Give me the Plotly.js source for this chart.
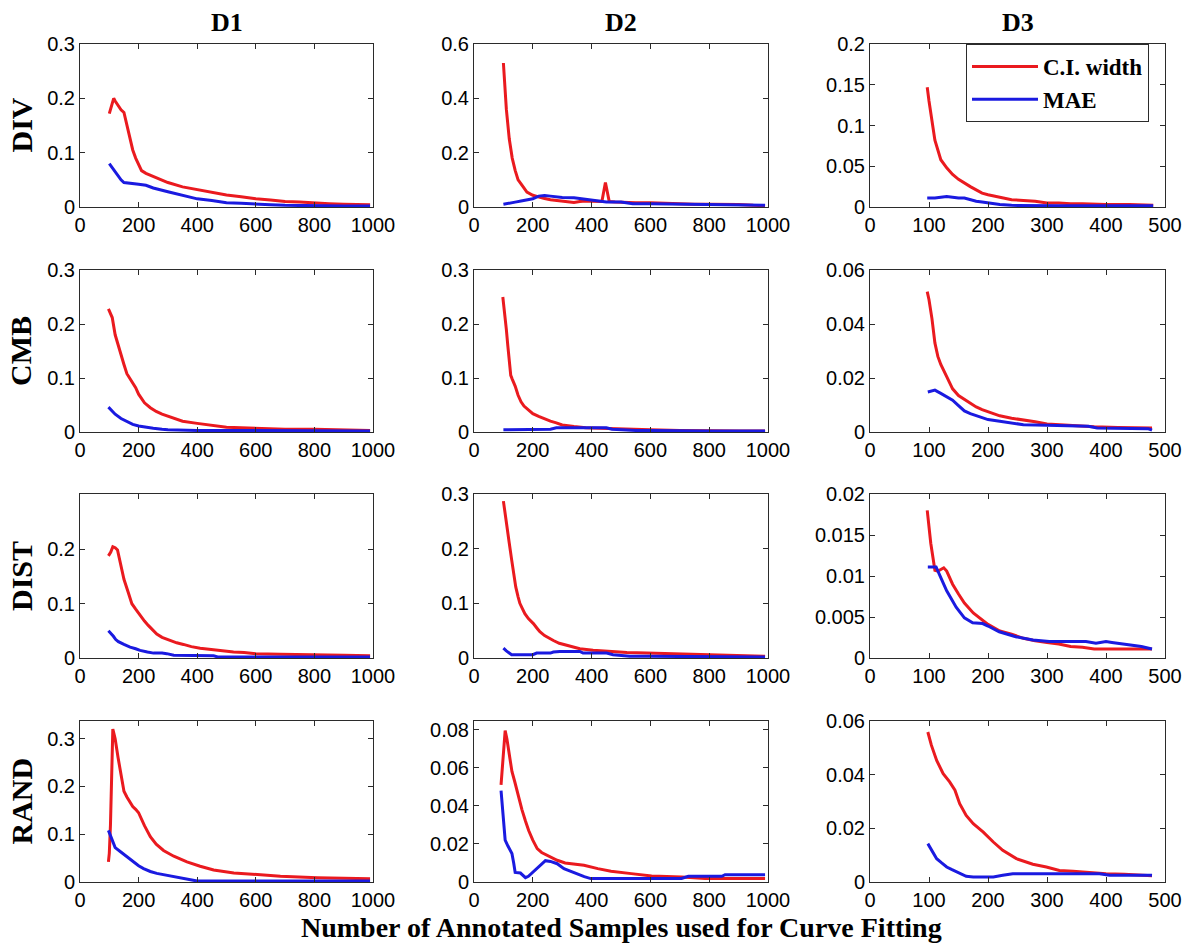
<!DOCTYPE html>
<html>
<head>
<meta charset="utf-8">
<script src="https://cdn.plot.ly/plotly-3.0.1.min.js"></script>
<style>html,body{margin:0;padding:0;background:#fff;}#chart{width:1200px;height:949px;}</style>
</head>
<body>
<div id="chart"></div>
<script>
// ---------- categories / labels ----------
const datasets = ["D1", "D2", "D3"];
const strategies = ["DIV", "CMB", "DIST", "RAND"];
const seriesNames = ["C.I. width", "MAE"];
const xTitle = "Number of Annotated Samples used for Curve Fitting";
const xTicks1000 = [0, 200, 400, 600, 800, 1000];
const xTicks500 = [0, 100, 200, 300, 400, 500];

// ---------- DIV ----------
const DIV_D1_x_ci = [100,110,115,120,130,140,150,160,170,180,190,200,210,225,250,275,300,350,400,450,500,550,600,650,700,750,800,850,900,950,990];
const DIV_D1_ci   = [0.172,0.19,0.2,0.195,0.186,0.179,0.174,0.15,0.125,0.105,0.09,0.077,0.067,0.062,0.056,0.05,0.045,0.037,0.032,0.027,0.022,0.019,0.015,0.013,0.01,0.009,0.007,0.006,0.005,0.004,0.004];
const DIV_D1_x_mae = [100,120,140,150,175,200,225,250,300,350,400,450,500,550,600,650,700,800,900,990];
const DIV_D1_mae   = [0.08,0.065,0.05,0.045,0.044,0.042,0.04,0.035,0.028,0.021,0.015,0.012,0.008,0.007,0.005,0.004,0.003,0.002,0.002,0.002];

const DIV_D2_x_ci = [100,110,120,130,140,150,160,170,180,200,220,240,260,280,300,320,340,360,380,400,420,435,447,460,480,500,550,600,650,700,750,800,850,900,950,990];
const DIV_D2_ci   = [0.53,0.36,0.25,0.18,0.135,0.1,0.085,0.068,0.055,0.043,0.036,0.031,0.027,0.024,0.022,0.02,0.017,0.02,0.022,0.021,0.02,0.02,0.09,0.02,0.018,0.017,0.016,0.016,0.014,0.01,0.01,0.01,0.01,0.009,0.006,0.005];
const DIV_D2_x_mae = [100,120,140,160,180,200,220,240,260,280,300,340,380,420,450,500,540,600,700,800,900,990];
const DIV_D2_mae   = [0.01,0.013,0.018,0.022,0.025,0.03,0.04,0.042,0.04,0.037,0.035,0.034,0.028,0.022,0.018,0.018,0.012,0.012,0.01,0.008,0.007,0.006];

const DIV_D3_x_ci = [97,100,110,120,130,140,150,160,170,180,190,200,220,240,260,280,300,320,340,360,400,440,480];
const DIV_D3_ci   = [0.147,0.13,0.082,0.058,0.048,0.04,0.034,0.029,0.025,0.021,0.017,0.015,0.012,0.009,0.008,0.007,0.005,0.005,0.004,0.004,0.003,0.003,0.002];
const DIV_D3_x_mae = [97,110,120,130,140,150,160,170,180,190,200,220,240,280,320,400,480];
const DIV_D3_mae   = [0.011,0.011,0.012,0.013,0.012,0.011,0.011,0.009,0.007,0.006,0.005,0.003,0.002,0.0015,0.0015,0.0015,0.0015];

// ---------- CMB ----------
const CMB_D1_x_ci = [97,110,120,130,140,150,160,170,180,190,200,220,240,260,280,300,350,400,450,500,550,600,700,800,870,990];
const CMB_D1_ci   = [0.228,0.212,0.18,0.16,0.142,0.125,0.108,0.1,0.092,0.082,0.07,0.054,0.045,0.038,0.033,0.029,0.02,0.016,0.012,0.009,0.008,0.007,0.005,0.005,0.004,0.003];
const CMB_D1_x_mae = [97,110,120,140,160,180,200,220,250,280,300,400,500,600,700,800,900,990];
const CMB_D1_mae   = [0.046,0.039,0.033,0.025,0.019,0.014,0.011,0.009,0.007,0.005,0.004,0.003,0.003,0.003,0.002,0.002,0.002,0.002];

const CMB_D2_x_ci = [98,105,110,115,120,125,130,140,150,160,170,180,200,220,240,260,280,300,340,380,430,480,540,600,700,800,900,990];
const CMB_D2_ci   = [0.25,0.22,0.19,0.16,0.13,0.105,0.098,0.085,0.068,0.056,0.048,0.043,0.034,0.029,0.024,0.02,0.017,0.013,0.01,0.008,0.007,0.006,0.004,0.004,0.003,0.002,0.002,0.002];
const CMB_D2_x_mae = [100,150,200,260,280,300,350,400,450,470,500,550,600,700,800,900,990];
const CMB_D2_mae   = [0.004,0.004,0.004,0.005,0.008,0.008,0.008,0.008,0.008,0.005,0.004,0.003,0.003,0.002,0.002,0.002,0.002];

const CMB_D3_x_ci = [97,100,105,110,115,120,130,140,150,160,170,180,190,200,220,240,260,280,300,320,340,380,420,460,478];
const CMB_D3_ci   = [0.052,0.049,0.042,0.033,0.028,0.025,0.0205,0.016,0.0135,0.012,0.0105,0.0093,0.0083,0.0075,0.006,0.0051,0.0045,0.0038,0.003,0.0027,0.0023,0.0019,0.0017,0.0016,0.0015];
const CMB_D3_x_mae = [98,105,110,120,130,140,150,160,170,180,200,220,240,260,300,340,370,385,420,460,472,478];
const CMB_D3_mae   = [0.0148,0.0152,0.0155,0.0143,0.013,0.0118,0.0098,0.0078,0.0068,0.006,0.0046,0.004,0.0034,0.0027,0.0025,0.0023,0.0021,0.0015,0.0014,0.0013,0.0012,0.0007];

// ---------- DIST ----------
const DIST_D1_x_ci = [97,105,112,120,128,135,142,150,165,177,190,205,220,233,250,262,280,308,330,353,380,410,440,467,500,524,560,600,683,750,800,900,990];
const DIST_D1_ci   = [0.188,0.195,0.205,0.203,0.199,0.18,0.16,0.145,0.12,0.1,0.09,0.078,0.068,0.06,0.05,0.044,0.038,0.032,0.028,0.025,0.021,0.018,0.016,0.014,0.012,0.011,0.01,0.008,0.007,0.006,0.006,0.005,0.004];
const DIST_D1_x_mae = [97,105,114,122,131,150,171,190,205,230,251,280,296,320,400,456,470,600,800,990];
const DIST_D1_mae   = [0.05,0.046,0.04,0.034,0.03,0.025,0.02,0.017,0.014,0.011,0.009,0.009,0.008,0.005,0.005,0.004,0.002,0.002,0.002,0.002];

const DIST_D2_x_ci = [100,105,111,120,128,135,142,150,156,165,173,185,202,215,224,240,255,270,290,315,340,360,405,473,520,587,650,790,900,990];
const DIST_D2_ci   = [0.287,0.265,0.24,0.21,0.18,0.155,0.13,0.112,0.1,0.09,0.081,0.072,0.063,0.054,0.048,0.041,0.036,0.032,0.027,0.023,0.02,0.017,0.014,0.011,0.01,0.009,0.008,0.006,0.004,0.003];
const DIST_D2_x_mae = [100,110,128,160,200,213,260,270,292,330,360,371,420,451,473,500,530,600,700,800,900,990];
const DIST_D2_mae   = [0.018,0.013,0.006,0.006,0.006,0.009,0.009,0.011,0.012,0.012,0.012,0.009,0.009,0.009,0.006,0.005,0.003,0.003,0.003,0.003,0.002,0.002];

const DIST_D3_x_ci = [97,103,110,115,120,125,130,140,150,160,175,190,200,220,240,260,280,300,320,340,360,380,420,460,478];
const DIST_D3_ci   = [0.018,0.014,0.0107,0.0106,0.0108,0.011,0.0106,0.009,0.0078,0.0067,0.0055,0.0047,0.0041,0.0033,0.0029,0.0024,0.0021,0.0019,0.0017,0.0014,0.0013,0.0011,0.0011,0.0011,0.0011];
const DIST_D3_x_mae = [98,105,112,120,130,146,160,174,185,191,200,219,247,276,304,340,366,383,400,410,434,460,478];
const DIST_D3_mae   = [0.0111,0.0111,0.0111,0.0098,0.0082,0.0062,0.0049,0.0043,0.0042,0.0042,0.0039,0.0032,0.0026,0.0022,0.002,0.002,0.002,0.0018,0.002,0.0019,0.0017,0.0014,0.0011];

// ---------- RAND ----------
const RAND_D1_x_ci = [97,100,104,108,112,116,120,130,140,150,160,170,180,190,200,220,240,260,285,320,365,410,456,525,593,684,810,990];
const RAND_D1_ci   = [0.042,0.06,0.12,0.25,0.32,0.31,0.3,0.26,0.22,0.19,0.178,0.167,0.158,0.152,0.145,0.118,0.095,0.079,0.066,0.054,0.042,0.033,0.025,0.019,0.0155,0.012,0.009,0.007];
const RAND_D1_x_mae = [97,105,113,120,135,150,165,182,200,217,240,262,290,319,345,365,390,400,500,600,700,800,900,990];
const RAND_D1_mae   = [0.108,0.095,0.08,0.072,0.065,0.058,0.05,0.042,0.034,0.028,0.022,0.018,0.015,0.011,0.008,0.006,0.004,0.002,0.002,0.002,0.002,0.002,0.002,0.002];

const RAND_D2_x_ci = [92,100,106,112,120,129,138,146,155,163,175,186,200,215,230,249,265,283,310,329,374,421,466,535,604,706,786,850,990];
const RAND_D2_ci   = [0.051,0.068,0.0795,0.075,0.066,0.058,0.053,0.048,0.043,0.038,0.032,0.027,0.022,0.0175,0.0155,0.014,0.0125,0.0114,0.01,0.0096,0.0088,0.007,0.0056,0.0044,0.0032,0.0026,0.0018,0.0018,0.0018];
const RAND_D2_x_mae = [92,96,100,106,115,129,135,140,158,170,175,185,200,215,230,243,260,283,306,330,352,375,397,450,557,706,729,843,854,990];
const RAND_D2_mae   = [0.048,0.04,0.03,0.022,0.019,0.015,0.01,0.005,0.0047,0.003,0.0023,0.003,0.005,0.007,0.0095,0.0112,0.0108,0.0096,0.007,0.0055,0.004,0.0028,0.0018,0.0018,0.0018,0.0019,0.003,0.003,0.0038,0.0038];

const RAND_D3_x_ci = [98,104,113,124,135,144,152,163,175,192,209,225,248,276,299,321,344,378,400,431,460,478];
const RAND_D3_ci   = [0.0559,0.051,0.0453,0.0404,0.0373,0.0342,0.0292,0.0248,0.0217,0.0186,0.0149,0.0118,0.0087,0.0066,0.0056,0.0043,0.004,0.0034,0.0031,0.0029,0.0025,0.0023];
const RAND_D3_x_mae = [98,105,113,121,130,139,147,155,163,175,209,225,242,300,389,406,440,478];
const RAND_D3_mae   = [0.0143,0.0115,0.0087,0.0072,0.0056,0.0046,0.0037,0.0028,0.0021,0.0019,0.0019,0.0025,0.0031,0.0031,0.0031,0.0025,0.0025,0.0025];

// ---------- y ticks per panel ----------
const yTicks_DIV_D1 = [0, 0.1, 0.2, 0.3];
const yTicks_DIV_D2 = [0, 0.2, 0.4, 0.6];
const yTicks_DIV_D3 = [0, 0.05, 0.1, 0.15, 0.2];
const yTicks_CMB_D1 = [0, 0.1, 0.2, 0.3];
const yTicks_CMB_D2 = [0, 0.1, 0.2, 0.3];
const yTicks_CMB_D3 = [0, 0.02, 0.04, 0.06];
const yTicks_DIST_D1 = [0, 0.1, 0.2];
const yTicks_DIST_D2 = [0, 0.1, 0.2, 0.3];
const yTicks_DIST_D3 = [0, 0.005, 0.01, 0.015, 0.02];
const yTicks_RAND_D1 = [0, 0.1, 0.2, 0.3];
const yTicks_RAND_D2 = [0, 0.02, 0.04, 0.06, 0.08];
const yTicks_RAND_D3 = [0, 0.02, 0.04, 0.06];

const yMax = {
  DIV: [0.3, 0.6, 0.2],
  CMB: [0.3, 0.3, 0.06],
  DIST: [0.302, 0.3, 0.02],
  RAND: [0.337, 0.0845, 0.06]
};

const panels = {
  DIV:  [[DIV_D1_x_ci,DIV_D1_ci,DIV_D1_x_mae,DIV_D1_mae,yTicks_DIV_D1],[DIV_D2_x_ci,DIV_D2_ci,DIV_D2_x_mae,DIV_D2_mae,yTicks_DIV_D2],[DIV_D3_x_ci,DIV_D3_ci,DIV_D3_x_mae,DIV_D3_mae,yTicks_DIV_D3]],
  CMB:  [[CMB_D1_x_ci,CMB_D1_ci,CMB_D1_x_mae,CMB_D1_mae,yTicks_CMB_D1],[CMB_D2_x_ci,CMB_D2_ci,CMB_D2_x_mae,CMB_D2_mae,yTicks_CMB_D2],[CMB_D3_x_ci,CMB_D3_ci,CMB_D3_x_mae,CMB_D3_mae,yTicks_CMB_D3]],
  DIST: [[DIST_D1_x_ci,DIST_D1_ci,DIST_D1_x_mae,DIST_D1_mae,yTicks_DIST_D1],[DIST_D2_x_ci,DIST_D2_ci,DIST_D2_x_mae,DIST_D2_mae,yTicks_DIST_D2],[DIST_D3_x_ci,DIST_D3_ci,DIST_D3_x_mae,DIST_D3_mae,yTicks_DIST_D3]],
  RAND: [[RAND_D1_x_ci,RAND_D1_ci,RAND_D1_x_mae,RAND_D1_mae,yTicks_RAND_D1],[RAND_D2_x_ci,RAND_D2_ci,RAND_D2_x_mae,RAND_D2_mae,yTicks_RAND_D2],[RAND_D3_x_ci,RAND_D3_ci,RAND_D3_x_mae,RAND_D3_mae,yTicks_RAND_D3]]
};

// ---------- layout geometry (pixels) ----------
const W = 1200, H = 949;
const colPx = [[80, 373], [474, 768], [870, 1165]];
const rowPx = [[44, 207], [270, 432], [494, 658], [721, 882]];
const RED = "#ea1a1f", BLUE = "#1a1ae0";
const AXC = "#2b2b2b";
const tickFont = {family: "Liberation Sans, Arial, sans-serif", size: 20, color: "#000"};
const serif = "Liberation Serif, Times New Roman, serif";

function fmt(v) { return String(v); }

const traces = [];
const layout = {
  width: W, height: H,
  margin: {l: 0, r: 0, t: 0, b: 0},
  paper_bgcolor: "#fff", plot_bgcolor: "#fff",
  showlegend: true,
  legend: {
    x: 966 / W, y: 1 - 44 / H, xanchor: "left", yanchor: "top",
    bgcolor: "#fff", bordercolor: AXC, borderwidth: 1,
    font: {family: serif, size: 23, color: "#000", weight: "bold"},
    itemwidth: 66, tracegroupgap: 0
  },
  annotations: [],
  shapes: []
};

strategies.forEach((s, r) => {
  datasets.forEach((d, c) => {
    const n = r * 3 + c + 1;
    const xa = "xaxis" + (n === 1 ? "" : n), ya = "yaxis" + (n === 1 ? "" : n);
    const xr = "x" + (n === 1 ? "" : n), yr = "y" + (n === 1 ? "" : n);
    const p = panels[s][c];
    const isLegendPanel = (r === 0 && c === 2);
    traces.push({x: p[0], y: p[1], xaxis: xr, yaxis: yr, type: "scatter", mode: "lines",
      name: seriesNames[0], line: {color: RED, width: 3}, showlegend: isLegendPanel, legendgroup: "ci"});
    traces.push({x: p[2], y: p[3], xaxis: xr, yaxis: yr, type: "scatter", mode: "lines",
      name: seriesNames[1], line: {color: BLUE, width: 3}, showlegend: isLegendPanel, legendgroup: "mae"});
    const xt = c === 2 ? xTicks500 : xTicks1000;
    layout[xa] = {
      domain: [colPx[c][0] / W, colPx[c][1] / W], anchor: yr,
      range: [0, c === 2 ? 500 : 1000], tickmode: "array", tickvals: xt, ticktext: xt.map(fmt),
      showline: true, linecolor: AXC, linewidth: 1, mirror: "ticks", ticks: "inside",
      ticklen: 5, tickcolor: AXC, showgrid: false, zeroline: false, tickfont: tickFont
    };
    layout[ya] = {
      domain: [1 - rowPx[r][1] / H, 1 - rowPx[r][0] / H], anchor: xr,
      range: [0, yMax[s][c]], tickmode: "array", tickvals: p[4], ticktext: p[4].map(fmt),
      showline: true, linecolor: AXC, linewidth: 1, mirror: "ticks", ticks: "inside",
      ticklen: 5, tickcolor: AXC, showgrid: false, zeroline: false, tickfont: tickFont
    };
  });
});

// column titles
datasets.forEach((d, c) => {
  layout.annotations.push({text: "<b>" + d + "</b>", xref: "paper", yref: "paper",
    x: (colPx[c][0] + colPx[c][1]) / 2 / W, y: 1 - 22 / H, xanchor: "center", yanchor: "middle",
    showarrow: false, font: {family: serif, size: 26, color: "#000"}});
});
// row labels
strategies.forEach((s, r) => {
  layout.annotations.push({text: "<b>" + s + "</b>", xref: "paper", yref: "paper",
    x: 21 / W, y: 1 - (rowPx[r][0] + rowPx[r][1]) / 2 / H, xanchor: "center", yanchor: "middle",
    textangle: -90, showarrow: false, font: {family: serif, size: 30, color: "#000"}});
});
// x-axis title
layout.annotations.push({text: "<b>" + xTitle + "</b>", xref: "paper", yref: "paper",
  x: 621 / W, y: 1 - 927 / H, xanchor: "center", yanchor: "middle",
  showarrow: false, font: {family: serif, size: 28, color: "#000"}});

Plotly.newPlot("chart", traces, layout, {staticPlot: true, displayModeBar: false});
</script>
</body>
</html>
